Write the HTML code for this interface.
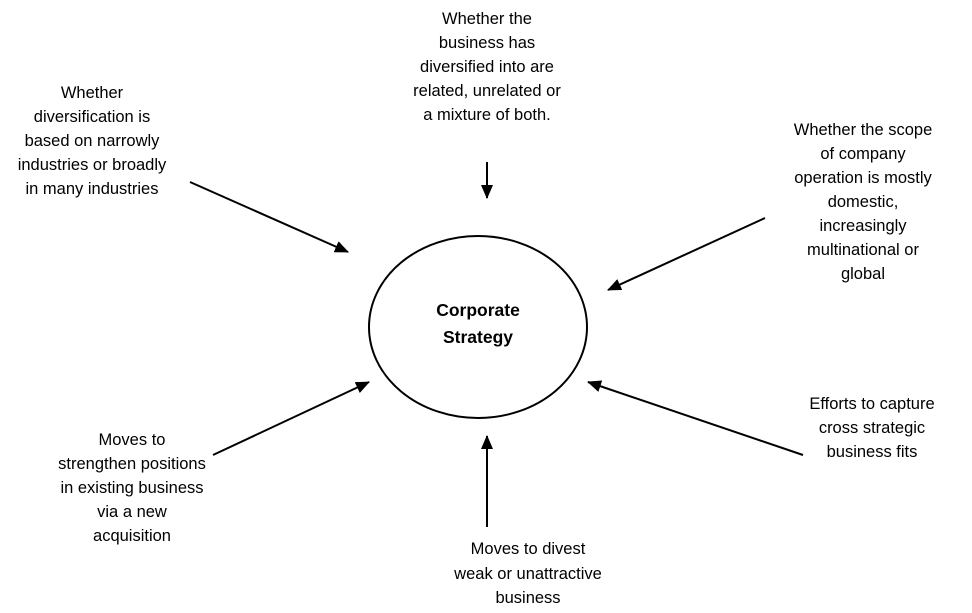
<!DOCTYPE html>
<html><head><style>
html,body{margin:0;padding:0;background:#fff;}
svg{display:block;}
text{font-family:"Liberation Sans",sans-serif;font-size:16.5px;fill:#000;}
</style></head><body>
<svg width="972" height="613" viewBox="0 0 972 613" xmlns="http://www.w3.org/2000/svg">
<defs><marker id="a" markerWidth="14" markerHeight="12" refX="13" refY="6" orient="auto" markerUnits="userSpaceOnUse"><path d="M0,0 L14,6 L0,12 z" fill="#000"/></marker></defs>
<ellipse cx="478" cy="327" rx="109" ry="91" fill="none" stroke="#000" stroke-width="2"/>
<text x="478" y="316" text-anchor="middle" font-weight="bold" style="font-size:17.5px">Corporate</text>
<text x="478" y="343" text-anchor="middle" font-weight="bold" style="font-size:17.5px">Strategy</text>
<g stroke="#000" stroke-width="2" marker-end="url(#a)">
<line x1="190" y1="182" x2="348" y2="252"/>
<line x1="487" y1="162" x2="487" y2="198"/>
<line x1="765" y1="218" x2="608" y2="290"/>
<line x1="213" y1="455" x2="369" y2="382"/>
<line x1="487" y1="527" x2="487" y2="436"/>
<line x1="803" y1="455" x2="588" y2="382"/>
</g>
<g text-anchor="middle">
<text x="487" y="24">Whether the</text>
<text x="487" y="48">business has</text>
<text x="487" y="72">diversified into are</text>
<text x="487" y="96">related, unrelated or</text>
<text x="487" y="120">a mixture of both.</text>
<text x="92" y="98">Whether</text>
<text x="92" y="122">diversification is</text>
<text x="92" y="146">based on narrowly</text>
<text x="92" y="170">industries or broadly</text>
<text x="92" y="194">in many industries</text>
<text x="863" y="135">Whether the scope</text>
<text x="863" y="159">of company</text>
<text x="863" y="183">operation is mostly</text>
<text x="863" y="207">domestic,</text>
<text x="863" y="231">increasingly</text>
<text x="863" y="255">multinational or</text>
<text x="863" y="279">global</text>
<text x="132" y="445">Moves to</text>
<text x="132" y="469">strengthen positions</text>
<text x="132" y="493">in existing business</text>
<text x="132" y="517">via a new</text>
<text x="132" y="541">acquisition</text>
<text x="528" y="554">Moves to divest</text>
<text x="528" y="579">weak or unattractive</text>
<text x="528" y="603">business</text>
<text x="872" y="409">Efforts to capture</text>
<text x="872" y="433">cross strategic</text>
<text x="872" y="457">business fits</text>
</g>
</svg>
</body></html>
